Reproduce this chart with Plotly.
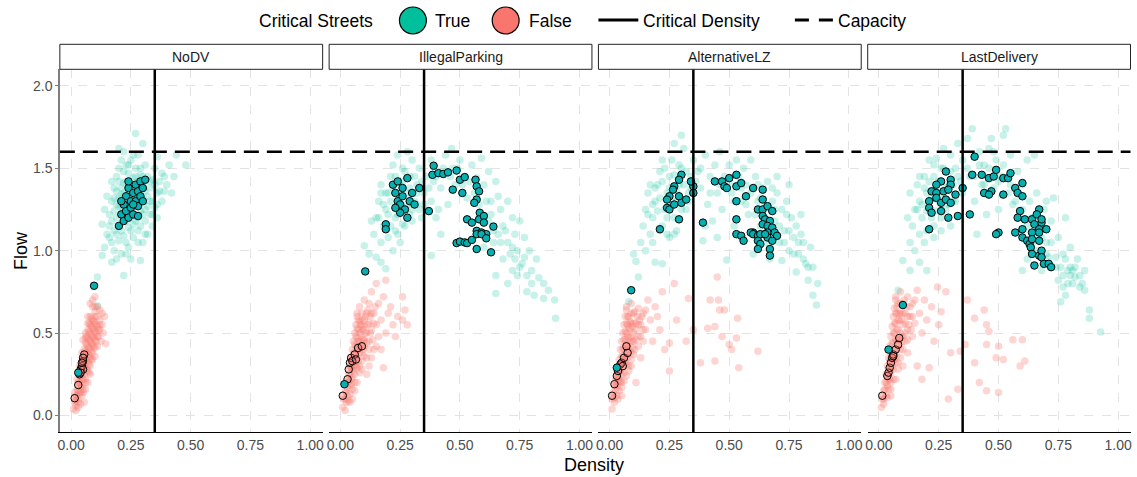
import plotly.graph_objects as go

W, H = 1137, 477

PANELS = ["NoDV", "IllegalParking", "AlternativeLZ", "LastDelivery"]
CRITICAL_DENSITY = 0.35
CAPACITY = 1.6
X_TICKS = [0, 0.25, 0.5, 0.75, 1.0]
X_TICK_LABELS = ["0.00", "0.25", "0.50", "0.75", "1.00"]
Y_TICKS = [0, 0.5, 1.0, 1.5, 2.0]
Y_TICK_LABELS = ["0.0", "0.5", "1.0", "1.5", "2.0"]

# ---------------- background clouds (density, flow) ----------------
NODV_TRUE_CLOUD = [
    (0.16,1.22),(0.17,1.30),(0.18,1.38),(0.19,1.45),(0.20,1.50),(0.21,1.55),(0.22,1.60),(0.23,1.52),(0.24,1.47),(0.25,1.55),
    (0.26,1.44),(0.27,1.50),(0.28,1.58),(0.29,1.46),(0.30,1.40),(0.31,1.52),(0.32,1.45),(0.33,1.38),(0.34,1.43),(0.35,1.50),
    (0.36,1.35),(0.37,1.42),(0.38,1.47),(0.40,1.40),(0.41,1.52),(0.43,1.45),(0.48,1.52),(0.44,1.58),
    (0.15,1.10),(0.16,1.15),(0.17,1.05),(0.18,1.12),(0.19,1.20),(0.20,1.27),(0.21,1.34),(0.22,1.41),(0.23,1.18),(0.24,1.25),
    (0.25,1.33),(0.26,1.21),(0.27,1.29),(0.28,1.36),(0.29,1.24),(0.30,1.31),(0.31,1.18),(0.32,1.27),(0.33,1.22),(0.34,1.30),
    (0.35,1.26),(0.36,1.20),(0.38,1.30),(0.39,1.36),
    (0.18,1.00),(0.20,1.06),(0.22,1.09),(0.24,1.02),(0.26,1.08),(0.28,1.12),(0.30,1.05),(0.32,1.10),(0.34,1.15),(0.21,0.98),
    (0.25,0.95),(0.29,0.94),(0.17,0.93),(0.22,0.85),(0.11,0.84),(0.13,0.97),(0.11,0.665),(0.14,1.02),(0.27,1.71),(0.30,1.65),
    (0.20,1.62),(0.36,1.57),(0.42,1.35),(0.13,1.16),(0.14,1.25),(0.15,1.33),(0.17,1.42),(0.19,1.36),(0.21,1.26),(0.23,1.33),
    (0.25,1.40),(0.27,1.37),(0.29,1.33),(0.24,1.14),(0.26,1.16),(0.28,1.20),(0.30,1.22),(0.22,1.24),(0.20,1.15),
]
NODV_TRUE_CORE = [
    (0.19,1.28),(0.20,1.32),(0.21,1.38),(0.22,1.35),(0.23,1.42),(0.24,1.36),(0.25,1.22),(0.26,1.30),(0.27,1.45),(0.28,1.42),
    (0.29,1.50),(0.30,1.45),(0.31,1.36),(0.32,1.33),(0.33,1.42),(0.18,1.24),(0.19,1.10),(0.21,1.12),(0.23,1.05),(0.25,1.12),
    (0.27,1.18),(0.29,1.15),(0.31,1.25),(0.33,1.30),(0.35,1.40),(0.37,1.36),(0.39,1.45),(0.22,1.48),(0.24,1.52),(0.26,1.58),
    (0.18,1.32),(0.20,1.42),(0.16,1.08),(0.17,1.18),(0.28,1.05),(0.23,0.98),(0.19,0.95),(0.31,1.10),(0.34,1.22),(0.36,1.28),
]
NODV_FALSE_CLOUD = [
    (0.01,0.04),(0.015,0.08),(0.02,0.12),(0.02,0.06),(0.025,0.16),(0.03,0.10),(0.03,0.20),(0.035,0.14),(0.035,0.24),(0.04,0.18),
    (0.04,0.28),(0.045,0.22),(0.045,0.32),(0.05,0.16),(0.05,0.26),(0.05,0.36),(0.055,0.30),(0.055,0.40),(0.06,0.22),(0.06,0.34),
    (0.06,0.44),(0.065,0.28),(0.065,0.38),(0.065,0.48),(0.07,0.32),(0.07,0.42),(0.07,0.52),(0.075,0.26),(0.075,0.36),(0.075,0.46),
    (0.075,0.56),(0.08,0.30),(0.08,0.40),(0.08,0.50),(0.08,0.60),(0.085,0.34),(0.085,0.44),(0.085,0.54),(0.09,0.38),(0.09,0.48),
    (0.09,0.58),(0.09,0.66),(0.095,0.42),(0.095,0.52),(0.10,0.36),(0.10,0.46),(0.10,0.56),(0.10,0.63),(0.105,0.50),(0.11,0.42),
    (0.11,0.54),(0.11,0.60),(0.115,0.48),(0.12,0.52),(0.12,0.58),(0.125,0.45),(0.13,0.55),(0.135,0.50),(0.145,0.435),(0.14,0.60),
    (0.09,0.70),(0.10,0.72),(0.08,0.68),(0.03,0.05),(0.045,0.12),(0.06,0.16),(0.07,0.20),(0.055,0.08),(0.04,0.07),(0.02,0.03),
    (0.07,0.60),(0.11,0.66),(0.12,0.64),(0.13,0.62),(0.06,0.50),(0.05,0.46),(0.035,0.30),(0.025,0.22),(0.015,0.14),
]
NODV_FALSE_CORE = [
    (0.02,0.09),(0.025,0.12),(0.03,0.15),(0.035,0.20),(0.04,0.24),(0.04,0.14),(0.045,0.18),(0.045,0.27),(0.05,0.22),(0.05,0.31),
    (0.055,0.25),(0.055,0.35),(0.06,0.29),(0.06,0.39),(0.065,0.33),(0.065,0.43),(0.07,0.27),(0.07,0.37),(0.07,0.47),(0.075,0.31),
    (0.075,0.41),(0.075,0.51),(0.08,0.35),(0.08,0.45),(0.08,0.55),(0.085,0.39),(0.085,0.49),(0.085,0.59),(0.09,0.43),(0.09,0.53),
    (0.095,0.47),(0.095,0.57),(0.10,0.41),(0.10,0.51),(0.10,0.60),(0.105,0.45),(0.105,0.55),(0.11,0.48),(0.115,0.52),(0.12,0.55),
    (0.09,0.34),(0.08,0.25),(0.06,0.20),(0.05,0.14),(0.03,0.08),(0.10,0.66),(0.07,0.56),(0.06,0.47),(0.045,0.38),(0.035,0.26),
]
ILLEGAL_TRUE_CLOUD = [
    (0.14,1.10),(0.15,1.20),(0.16,1.30),(0.17,1.40),(0.18,1.15),(0.19,1.25),(0.20,1.35),(0.21,1.45),(0.22,1.52),(0.23,1.20),
    (0.24,1.30),(0.25,1.40),(0.26,1.50),(0.27,1.25),(0.28,1.35),(0.29,1.45),(0.30,1.55),(0.31,1.30),(0.32,1.40),(0.33,1.50),
    (0.34,1.20),(0.35,1.35),(0.36,1.45),(0.17,1.05),(0.20,1.08),(0.23,1.12),(0.26,1.16),(0.29,1.22),(0.32,1.28),(0.12,0.98),
    (0.10,1.03),(0.17,0.93),(0.19,0.89),(0.15,0.96),(0.22,1.00),(0.25,1.05),(0.13,1.18),(0.24,1.58),(0.28,1.60),
    (0.38,1.55),(0.40,1.45),(0.42,1.38),(0.44,1.58),(0.465,1.62),(0.47,1.50),(0.48,1.40),(0.50,1.55),(0.52,1.45),(0.53,1.32),
    (0.55,1.52),(0.57,1.44),(0.59,1.56),(0.60,1.40),(0.62,1.48),(0.63,1.30),(0.65,1.42),(0.66,1.33),(0.38,1.30),(0.41,1.25),
    (0.45,1.28),(0.38,0.97),(0.42,1.10),(0.40,1.20),
    (0.67,1.25),(0.68,1.15),(0.70,1.30),(0.70,1.05),(0.72,1.20),(0.72,0.88),(0.73,1.10),(0.74,1.00),(0.75,1.18),(0.76,0.92),
    (0.77,0.96),(0.77,1.08),(0.78,0.75),(0.79,1.00),(0.80,0.88),(0.81,0.73),(0.82,0.95),(0.83,0.835),(0.85,0.80),(0.85,0.71),
    (0.87,0.76),(0.896,0.70),(0.90,0.59),(0.65,0.74),(0.65,0.85),(0.68,0.95),(0.64,1.05),(0.66,1.10),(0.62,1.18),(0.70,0.80),
    (0.74,0.85),(0.60,1.02),
]
ILLEGAL_TRUE_CORE = [
    (0.18,1.28),(0.19,1.35),(0.20,1.22),(0.21,1.30),(0.22,1.38),(0.23,1.45),(0.24,1.22),(0.25,1.34),(0.26,1.42),(0.27,1.48),
    (0.28,1.28),(0.29,1.38),(0.30,1.25),(0.31,1.45),(0.32,1.35),(0.33,1.25),(0.34,1.42),(0.35,1.28),(0.37,1.38),(0.39,1.42),
    (0.16,1.20),(0.17,1.35),(0.21,1.15),(0.24,1.10),(0.27,1.15),(0.30,1.18),(0.43,1.50),(0.46,1.45),(0.49,1.50),(0.51,1.40),
    (0.54,1.42),(0.56,1.35),(0.58,1.28),(0.61,1.30),(0.63,1.22),(0.64,1.12),(0.67,1.05),(0.69,1.12),(0.71,0.98),(0.73,0.95),
    (0.75,0.90),(0.78,0.85),(0.80,0.80),(0.72,1.02),
]
ILLEGAL_FALSE_CLOUD = [
    (0.01,0.05),(0.015,0.10),(0.02,0.15),(0.025,0.08),(0.03,0.20),(0.03,0.12),(0.035,0.25),(0.04,0.18),(0.04,0.30),(0.045,0.22),
    (0.045,0.35),(0.05,0.28),(0.05,0.40),(0.055,0.32),(0.055,0.45),(0.06,0.25),(0.06,0.38),(0.06,0.50),(0.065,0.30),(0.065,0.42),
    (0.065,0.55),(0.07,0.35),(0.07,0.47),(0.07,0.60),(0.075,0.40),(0.075,0.52),(0.08,0.30),(0.08,0.45),(0.08,0.57),(0.08,0.66),
    (0.085,0.50),(0.09,0.38),(0.09,0.54),(0.09,0.62),(0.095,0.46),(0.10,0.42),(0.10,0.58),(0.10,0.70),(0.105,0.50),(0.11,0.35),
    (0.11,0.62),(0.115,0.55),(0.12,0.45),(0.12,0.68),(0.125,0.60),(0.13,0.52),(0.13,0.75),(0.14,0.40),(0.14,0.62),(0.15,0.55),
    (0.15,0.80),(0.16,0.48),(0.16,0.68),(0.17,0.58),(0.18,0.29),(0.18,0.72),(0.19,0.82),(0.19,0.50),(0.20,0.62),(0.21,0.66),
    (0.22,0.55),(0.23,0.48),(0.24,0.60),(0.26,0.58),(0.26,0.72),(0.27,0.64),(0.28,0.55),(0.07,0.20),(0.09,0.28),(0.11,0.25),
    (0.13,0.35),(0.15,0.42),(0.05,0.10),(0.04,0.08),(0.02,0.03),(0.12,0.30),(0.17,0.40),(0.06,0.15),
]
ILLEGAL_FALSE_CORE = [
    (0.02,0.10),(0.025,0.14),(0.03,0.17),(0.035,0.21),(0.04,0.25),(0.04,0.13),(0.045,0.19),(0.045,0.29),(0.05,0.23),(0.05,0.34),
    (0.055,0.27),(0.055,0.38),(0.06,0.31),(0.06,0.43),(0.065,0.35),(0.065,0.48),(0.07,0.29),(0.07,0.40),(0.07,0.53),(0.075,0.33),
    (0.075,0.45),(0.075,0.58),(0.08,0.38),(0.08,0.50),(0.085,0.42),(0.085,0.55),(0.09,0.46),(0.09,0.58),(0.095,0.40),(0.095,0.52),
    (0.10,0.46),(0.10,0.54),(0.105,0.60),(0.11,0.44),(0.11,0.50),(0.115,0.64),(0.12,0.56),(0.12,0.40),(0.125,0.50),(0.13,0.62),
    (0.135,0.46),(0.14,0.56),(0.145,0.66),(0.09,0.33),(0.08,0.26),(0.06,0.20),(0.05,0.16),(0.035,0.09),(0.10,0.36),(0.07,0.62),
]
ALTLZ_TRUE_CLOUD = [
    (0.13,1.05),(0.14,1.15),(0.15,1.25),(0.16,1.35),(0.17,1.10),(0.18,1.20),(0.19,1.30),(0.20,1.40),(0.21,1.48),(0.22,1.15),
    (0.23,1.25),(0.24,1.35),(0.25,1.45),(0.26,1.55),(0.27,1.20),(0.28,1.30),(0.29,1.40),(0.30,1.50),(0.31,1.62),(0.32,1.25),
    (0.33,1.35),(0.34,1.45),(0.35,1.55),(0.30,1.70),(0.27,1.65),(0.22,1.55),(0.11,0.934),(0.12,0.84),(0.08,0.69),(0.19,0.93),
    (0.22,0.92),(0.15,1.00),(0.18,1.05),(0.25,1.08),(0.10,0.98),(0.28,1.12),
    (0.37,1.48),(0.38,1.38),(0.39,1.06),(0.40,1.58),(0.41,1.28),(0.42,1.45),(0.43,1.18),(0.44,1.52),(0.45,1.35),(0.46,1.60),
    (0.47,1.25),(0.48,1.45),(0.49,0.944),(0.50,1.52),(0.51,1.35),(0.52,1.15),(0.53,1.55),(0.54,1.45),(0.55,1.30),(0.56,1.50),
    (0.57,1.40),(0.58,1.22),(0.59,1.55),(0.40,1.15),(0.45,1.08),
    (0.60,0.98),(0.61,1.45),(0.62,1.30),(0.63,1.15),(0.64,1.38),(0.65,1.05),(0.66,1.42),(0.67,0.95),(0.68,1.30),(0.69,1.18),
    (0.70,1.35),(0.71,1.05),(0.72,0.94),(0.72,1.25),(0.73,1.12),(0.74,1.30),(0.75,1.00),(0.76,1.20),(0.77,1.08),(0.78,0.87),
    (0.78,1.15),(0.79,0.98),(0.80,1.22),(0.81,1.05),(0.82,0.92),(0.83,0.82),(0.84,1.02),(0.85,0.73),(0.85,0.90),(0.865,0.67),
    (0.87,0.80),(0.80,1.10),(0.75,1.40),(0.70,1.45),
]
ALTLZ_TRUE_CORE = [
    (0.18,1.28),(0.19,1.38),(0.20,1.24),(0.21,1.32),(0.22,1.42),(0.23,1.50),(0.24,1.20),(0.25,1.38),(0.26,1.30),(0.27,1.46),
    (0.28,1.36),(0.29,1.52),(0.30,1.25),(0.31,1.40),(0.32,1.48),(0.33,1.30),(0.34,1.38),(0.36,1.42),(0.38,1.50),(0.16,1.22),
    (0.17,1.40),(0.21,1.12),(0.24,1.10),(0.27,1.10),(0.42,1.35),(0.46,1.40),(0.50,1.42),(0.52,1.30),(0.55,1.38),(0.57,1.28),
    (0.59,1.35),(0.61,1.22),(0.63,1.32),(0.65,1.20),(0.67,1.12),(0.69,1.25),(0.71,1.15),(0.73,1.05),(0.75,1.12),(0.77,0.98),
    (0.79,1.05),(0.81,0.95),(0.62,1.40),(0.68,1.38),(0.74,1.22),(0.83,0.90),
]
ALTLZ_FALSE_CLOUD = [
    (0.01,0.04),(0.01,0.10),(0.015,0.14),(0.02,0.08),(0.02,0.18),(0.025,0.22),(0.03,0.12),(0.03,0.26),(0.035,0.18),(0.035,0.30),
    (0.04,0.22),(0.04,0.34),(0.045,0.27),(0.045,0.40),(0.05,0.20),(0.05,0.32),(0.05,0.45),(0.055,0.36),(0.055,0.50),(0.06,0.26),
    (0.06,0.40),(0.06,0.55),(0.065,0.32),(0.065,0.46),(0.065,0.60),(0.07,0.36),(0.07,0.50),(0.07,0.64),(0.075,0.42),(0.075,0.55),
    (0.08,0.30),(0.08,0.47),(0.08,0.60),(0.085,0.52),(0.09,0.38),(0.09,0.56),(0.09,0.68),(0.095,0.45),(0.10,0.50),(0.10,0.62),
    (0.105,0.40),(0.11,0.56),(0.11,0.20),(0.12,0.48),(0.12,0.65),(0.13,0.55),(0.14,0.45),(0.14,0.62),(0.15,0.52),(0.16,0.70),
    (0.17,0.58),(0.18,0.45),(0.19,0.66),(0.20,0.60),(0.21,0.52),(0.22,0.75),(0.23,0.40),(0.25,0.27),(0.25,0.44),(0.27,0.80),
    (0.28,0.58),(0.32,0.45),(0.33,0.71),(0.35,0.52),(0.38,0.32),(0.41,0.53),(0.42,0.70),(0.44,0.33),(0.44,0.54),(0.45,0.84),
    (0.455,0.70),(0.46,0.64),(0.47,0.48),(0.48,0.64),(0.50,0.43),(0.51,0.40),(0.53,0.47),(0.535,0.59),(0.54,0.29),(0.62,0.39),
    (0.07,0.24),(0.05,0.12),(0.09,0.30),(0.13,0.35),
]
ALTLZ_FALSE_CORE = [
    (0.02,0.11),(0.025,0.15),(0.03,0.19),(0.035,0.23),(0.04,0.27),(0.04,0.15),(0.045,0.21),(0.045,0.31),(0.05,0.25),(0.05,0.36),
    (0.055,0.29),(0.055,0.41),(0.06,0.33),(0.06,0.46),(0.065,0.37),(0.065,0.51),(0.07,0.31),(0.07,0.43),(0.07,0.56),(0.075,0.35),
    (0.075,0.48),(0.075,0.60),(0.08,0.40),(0.08,0.53),(0.085,0.44),(0.085,0.57),(0.09,0.48),(0.09,0.62),(0.095,0.41),(0.095,0.54),
    (0.10,0.45),(0.10,0.56),(0.105,0.63),(0.11,0.46),(0.11,0.52),(0.115,0.60),(0.12,0.55),(0.12,0.42),(0.125,0.58),(0.13,0.48),
    (0.135,0.60),(0.14,0.52),(0.15,0.64),(0.09,0.34),(0.08,0.27),(0.06,0.21),(0.05,0.17),(0.035,0.10),(0.10,0.37),(0.07,0.66),
]
LAST_TRUE_CLOUD = [
    (0.13,1.05),(0.13,1.35),(0.14,1.15),(0.15,1.25),(0.16,1.40),(0.17,1.10),(0.17,1.30),(0.18,1.20),(0.19,1.45),(0.20,1.35),
    (0.21,1.55),(0.22,1.20),(0.23,1.45),(0.24,1.56),(0.25,1.30),(0.26,1.50),(0.27,1.62),(0.28,1.25),(0.29,1.40),(0.30,1.58),
    (0.31,1.30),(0.32,1.50),(0.33,1.65),(0.34,1.42),(0.35,1.55),(0.20,0.88),(0.10,0.94),(0.08,0.76),(0.13,0.88),(0.17,0.93),
    (0.15,1.00),(0.19,1.05),(0.23,1.08),(0.26,1.12),(0.30,1.15),(0.12,1.20),
    (0.37,1.68),(0.39,1.74),(0.38,1.45),(0.40,1.30),(0.41,1.10),(0.42,1.60),(0.43,1.40),(0.44,1.52),(0.45,1.22),(0.46,1.62),
    (0.47,1.68),(0.48,1.38),(0.49,1.55),(0.50,1.25),(0.52,1.70),(0.53,1.74),(0.51,1.45),(0.54,1.35),(0.55,1.58),(0.56,1.28),
    (0.58,1.48),(0.58,1.11),(0.60,1.40),(0.62,1.55),(0.65,1.58),(0.63,1.30),
    (0.60,0.88),(0.62,0.95),(0.64,1.20),(0.66,1.35),(0.67,1.10),(0.68,0.88),(0.69,1.25),(0.70,1.05),(0.71,0.96),(0.72,1.18),
    (0.73,1.32),(0.74,0.90),(0.75,0.82),(0.75,1.08),(0.76,0.69),(0.77,0.98),(0.78,0.73),(0.78,1.20),(0.79,0.88),(0.80,1.02),
    (0.81,0.80),(0.82,0.84),(0.83,0.95),(0.84,0.78),(0.85,0.80),(0.86,0.76),(0.86,0.88),(0.88,0.64),(0.88,0.59),(0.927,0.506),
    (0.80,0.90),(0.77,0.85),(0.70,1.30),
]
LAST_TRUE_CORE = [
    (0.18,1.28),(0.19,1.38),(0.20,1.24),(0.21,1.42),(0.22,1.32),(0.23,1.52),(0.24,1.24),(0.25,1.42),(0.26,1.34),(0.27,1.50),
    (0.28,1.38),(0.29,1.28),(0.30,1.48),(0.31,1.40),(0.32,1.30),(0.33,1.45),(0.35,1.35),(0.37,1.50),(0.16,1.25),(0.17,1.45),
    (0.20,1.12),(0.23,1.15),(0.26,1.20),(0.40,1.45),(0.42,1.52),(0.44,1.40),(0.46,1.50),(0.48,1.60),(0.50,1.42),(0.52,1.52),
    (0.55,1.40),(0.57,1.30),(0.60,1.25),(0.62,1.15),(0.64,1.05),(0.66,1.00),(0.68,1.08),(0.70,0.98),(0.72,1.05),(0.74,0.96),
    (0.76,0.90),(0.78,0.95),(0.80,0.85),(0.82,0.90),(0.84,0.85),(0.79,0.80),(0.81,0.88),(0.77,0.78),
]
LAST_FALSE_CLOUD = [
    (0.01,0.05),(0.015,0.10),(0.02,0.15),(0.02,0.07),(0.025,0.20),(0.03,0.12),(0.03,0.25),(0.035,0.18),(0.035,0.30),(0.04,0.22),
    (0.04,0.35),(0.045,0.28),(0.045,0.42),(0.05,0.20),(0.05,0.34),(0.05,0.48),(0.055,0.38),(0.055,0.54),(0.06,0.28),(0.06,0.44),
    (0.06,0.60),(0.065,0.34),(0.065,0.50),(0.065,0.65),(0.07,0.40),(0.07,0.56),(0.07,0.70),(0.075,0.46),(0.075,0.62),(0.08,0.32),
    (0.08,0.52),(0.08,0.68),(0.085,0.58),(0.09,0.40),(0.09,0.62),(0.09,0.75),(0.095,0.48),(0.10,0.55),(0.10,0.68),(0.11,0.45),
    (0.11,0.62),(0.12,0.52),(0.12,0.72),(0.13,0.60),(0.14,0.48),(0.14,0.68),(0.15,0.56),(0.16,0.30),(0.16,0.76),(0.17,0.62),
    (0.18,0.22),(0.18,0.50),(0.19,0.70),(0.20,0.58),(0.21,0.29),(0.22,0.66),(0.245,0.78),(0.26,0.63),(0.28,0.75),(0.29,0.10),
    (0.30,0.38),(0.33,0.16),(0.34,0.39),(0.36,0.43),(0.37,0.70),(0.40,0.59),(0.40,0.32),(0.42,0.20),(0.44,0.64),(0.45,0.55),
    (0.45,0.15),(0.45,0.43),(0.46,0.51),(0.49,0.35),(0.50,0.42),(0.50,0.14),(0.52,0.34),(0.56,0.46),(0.59,0.30),(0.60,0.46),
    (0.61,0.33),(0.07,0.22),(0.05,0.12),(0.10,0.30),(0.12,0.38),(0.23,0.45),(0.25,0.55),
]
LAST_FALSE_CORE = [
    (0.02,0.10),(0.025,0.16),(0.03,0.20),(0.035,0.24),(0.04,0.28),(0.04,0.16),(0.045,0.22),(0.045,0.33),(0.05,0.26),(0.05,0.38),
    (0.055,0.30),(0.055,0.44),(0.06,0.34),(0.06,0.50),(0.065,0.38),(0.065,0.56),(0.07,0.32),(0.07,0.46),(0.07,0.62),(0.075,0.36),
    (0.075,0.52),(0.075,0.66),(0.08,0.42),(0.08,0.58),(0.085,0.46),(0.085,0.62),(0.09,0.50),(0.09,0.68),(0.095,0.44),(0.095,0.58),
    (0.10,0.48),(0.10,0.62),(0.105,0.70),(0.11,0.50),(0.11,0.56),(0.115,0.66),(0.12,0.60),(0.12,0.46),(0.125,0.55),(0.13,0.66),
    (0.135,0.52),(0.14,0.60),(0.15,0.70),(0.09,0.35),(0.08,0.28),(0.06,0.22),(0.05,0.16),(0.035,0.11),(0.10,0.40),(0.07,0.72),
]

# ---------------- highlighted (outlined) points ----------------
NODV_TRUE_HL = [
    (0.20,1.15),(0.21,1.22),(0.22,1.28),(0.22,1.18),(0.23,1.33),(0.23,1.24),(0.24,1.38),(0.24,1.20),(0.25,1.30),(0.25,1.26),
    (0.26,1.35),(0.26,1.22),(0.27,1.40),(0.27,1.30),(0.28,1.36),(0.28,1.27),(0.29,1.42),(0.29,1.33),(0.30,1.38),(0.31,1.43),
    (0.24,1.42),(0.21,1.30),(0.28,1.21),(0.26,1.28),(0.30,1.30),(0.096,0.787),(0.03,0.26),
]
NODV_FALSE_HL = [
    (0.015,0.105),(0.03,0.185),(0.035,0.25),(0.04,0.28),(0.045,0.30),(0.05,0.33),(0.055,0.37),(0.05,0.35),(0.05,0.28),
    (0.045,0.32),(0.04,0.26),
]
ILLEGAL_TRUE_HL = [
    (0.22,1.40),(0.23,1.35),(0.24,1.30),(0.24,1.42),(0.25,1.28),(0.26,1.38),(0.26,1.33),(0.27,1.25),(0.28,1.44),(0.29,1.30),
    (0.30,1.35),(0.31,1.28),(0.33,1.38),(0.25,1.23),(0.23,1.26),(0.19,1.16),(0.19,1.13),(0.28,1.20),(0.37,1.24),
    (0.39,1.515),(0.385,1.46),(0.41,1.47),(0.43,1.465),(0.45,1.475),(0.486,1.486),(0.50,1.43),(0.52,1.446),(0.565,1.43),
    (0.57,1.39),(0.47,1.37),(0.51,1.35),(0.58,1.36),(0.57,1.31),(0.56,1.29),(0.583,1.23),(0.58,1.19),(0.60,1.21),(0.53,1.19),
    (0.55,1.17),(0.60,1.17),(0.64,1.146),(0.57,1.12),(0.59,1.11),(0.61,1.10),
    (0.486,1.046),(0.50,1.055),(0.52,1.05),(0.53,1.046),(0.55,1.065),(0.57,1.10),(0.59,1.10),(0.61,1.075),(0.57,1.01),
    (0.63,0.99),(0.104,0.874),(0.017,0.19),
]
ILLEGAL_FALSE_HL = [
    (0.01,0.12),(0.03,0.22),(0.035,0.28),(0.04,0.32),(0.045,0.35),(0.06,0.37),(0.074,0.41),(0.09,0.42),(0.05,0.33),(0.065,0.34),
]
ALTLZ_TRUE_HL = [
    (0.30,1.46),(0.29,1.43),(0.27,1.39),(0.25,1.33),(0.24,1.31),(0.24,1.26),(0.25,1.25),(0.27,1.28),(0.29,1.33),(0.30,1.29),
    (0.32,1.31),(0.35,1.39),(0.35,1.35),(0.34,1.42),(0.29,1.19),(0.21,1.13),(0.265,1.37),
    (0.44,1.42),(0.47,1.42),(0.48,1.39),(0.50,1.44),(0.53,1.46),(0.53,1.39),(0.55,1.41),(0.49,1.38),(0.57,1.33),(0.53,1.30),
    (0.60,1.38),(0.64,1.37),(0.64,1.31),(0.62,1.25),(0.64,1.25),(0.66,1.27),(0.68,1.24),(0.64,1.21),(0.65,1.19),(0.67,1.18),
    (0.64,1.16),(0.66,1.15),(0.68,1.14),(0.60,1.11),(0.59,1.11),(0.65,1.10),(0.66,1.11),(0.69,1.11),(0.70,1.09),(0.53,1.19),
    (0.39,1.17),(0.53,1.10),(0.55,1.09),(0.56,1.06),(0.60,1.10),(0.62,1.09),(0.63,1.10),(0.62,1.06),(0.63,1.04),(0.66,1.08),
    (0.68,1.06),(0.62,1.01),(0.67,1.01),(0.67,0.97),(0.65,1.10),(0.09,0.76),(0.03,0.29),
]
ALTLZ_FALSE_HL = [
    (0.01,0.12),(0.02,0.19),(0.03,0.24),(0.035,0.27),(0.045,0.31),(0.05,0.32),(0.06,0.35),(0.075,0.38),(0.07,0.42),(0.055,0.30),
]
LAST_TRUE_HL = [
    (0.40,1.57),(0.28,1.48),(0.26,1.42),(0.30,1.43),(0.30,1.40),(0.24,1.40),(0.22,1.36),(0.24,1.35),(0.27,1.36),(0.29,1.37),
    (0.32,1.34),(0.21,1.30),(0.24,1.32),(0.26,1.29),(0.28,1.31),(0.30,1.29),(0.21,1.26),(0.22,1.23),(0.26,1.24),(0.29,1.20),
    (0.33,1.21),(0.21,1.13),(0.38,1.22),(0.35,1.38),
    (0.39,1.46),(0.43,1.46),(0.46,1.44),(0.48,1.45),(0.49,1.49),(0.52,1.44),(0.54,1.44),(0.55,1.47),(0.44,1.35),(0.47,1.36),
    (0.46,1.34),(0.52,1.34),(0.57,1.38),(0.58,1.35),(0.60,1.33),(0.60,1.41),(0.59,1.24),(0.61,1.19),(0.58,1.20),(0.60,1.13),
    (0.64,1.19),(0.67,1.25),(0.66,1.22),(0.65,1.16),(0.68,1.17),(0.68,1.19),(0.67,1.13),(0.70,1.13),(0.64,1.11),(0.50,1.11),
    (0.49,1.10),(0.57,1.11),(0.60,1.08),(0.62,1.06),(0.63,1.04),(0.64,1.07),(0.635,1.02),(0.67,1.06),(0.67,1.11),(0.64,0.98),
    (0.67,0.97),(0.68,1.00),(0.69,0.92),(0.71,0.92),(0.72,0.90),(0.65,0.91),(0.68,0.96),(0.10,0.67),(0.04,0.40),
]
LAST_FALSE_HL = [
    (0.014,0.12),(0.035,0.24),(0.04,0.26),(0.045,0.29),(0.05,0.32),(0.055,0.35),(0.06,0.37),(0.07,0.40),(0.08,0.43),
    (0.085,0.47),(0.06,0.36),
]

TRUE_CLOUDS = [NODV_TRUE_CLOUD + NODV_TRUE_CORE, ILLEGAL_TRUE_CLOUD + ILLEGAL_TRUE_CORE,
               ALTLZ_TRUE_CLOUD + ALTLZ_TRUE_CORE, LAST_TRUE_CLOUD + LAST_TRUE_CORE]
FALSE_CLOUDS = [NODV_FALSE_CLOUD + NODV_FALSE_CORE, ILLEGAL_FALSE_CLOUD + ILLEGAL_FALSE_CORE,
                ALTLZ_FALSE_CLOUD + ALTLZ_FALSE_CORE, LAST_FALSE_CLOUD + LAST_FALSE_CORE]
TRUE_HL = [NODV_TRUE_HL, ILLEGAL_TRUE_HL, ALTLZ_TRUE_HL, LAST_TRUE_HL]
FALSE_HL = [NODV_FALSE_HL, ILLEGAL_FALSE_HL, ALTLZ_FALSE_HL, LAST_FALSE_HL]

# ---------------- styling ----------------
FONT = "Liberation Sans, Arial, sans-serif"
TEAL = "#00BF9C"
SALMON = "#F8766D"
HL_TEAL = "#06B0B0"
GRID = "#E3E3E3"
TICK_GREY = "#4D4D4D"

PANEL_LEFT_PX = [58, 328, 598, 868]
PANEL_W_PX = 263.5
PLOT_TOP_PX, PLOT_BOT_PX = 69.3, 432.0
STRIP_TOP_PX = 44.3
X_RANGE = [-0.047, 1.052]
Y_RANGE = [-0.1, 2.1]


def px(x):
    return x / W


def py(y):
    return 1 - y / H


fig = go.Figure()
shapes = []
annotations = []

for i, name in enumerate(PANELS):
    xa = "x" if i == 0 else f"x{i + 1}"
    ya = "y" if i == 0 else f"y{i + 1}"

    def add(points, marker):
        fig.add_trace(go.Scatter(
            x=[p[0] for p in points], y=[p[1] for p in points], mode="markers",
            xaxis=xa, yaxis=ya, marker=marker, showlegend=False, hoverinfo="skip"))

    add(TRUE_CLOUDS[i], dict(size=7.5, color=TEAL, opacity=0.22, line=dict(width=0)))
    add(FALSE_CLOUDS[i], dict(size=7.5, color=SALMON, opacity=0.3, line=dict(width=0)))
    add(FALSE_HL[i], dict(size=7.5, color="rgba(248,118,109,0.35)", line=dict(width=1, color="black")))
    add(TRUE_HL[i], dict(size=7.5, color=HL_TEAL, line=dict(width=1, color="black")))

    left = PANEL_LEFT_PX[i]
    xkey = "xaxis" if i == 0 else f"xaxis{i + 1}"
    ykey = "yaxis" if i == 0 else f"yaxis{i + 1}"
    fig.update_layout(**{
        xkey: dict(
            domain=[px(left), px(left + PANEL_W_PX)], range=X_RANGE, anchor=ya,
            tickvals=X_TICKS, ticktext=X_TICK_LABELS, ticks="", showgrid=True,
            gridcolor=GRID, griddash="dash", gridwidth=1, zeroline=False,
            showline=True, linecolor="black", linewidth=1.2,
            tickfont=dict(size=14, color=TICK_GREY, family=FONT), fixedrange=True),
        ykey: dict(
            domain=[py(PLOT_BOT_PX), py(PLOT_TOP_PX)], range=Y_RANGE, anchor=xa,
            tickvals=Y_TICKS, ticktext=Y_TICK_LABELS,
            ticks="outside" if i == 0 else "", ticklen=3, tickcolor="#7F7F7F",
            showticklabels=(i == 0), showgrid=True, gridcolor=GRID, griddash="dash",
            gridwidth=1, zeroline=False, showline=(i == 0), linecolor="#7F7F7F",
            linewidth=1.5, tickfont=dict(size=14, color=TICK_GREY, family=FONT),
            fixedrange=True),
    })

    # reference lines
    shapes.append(dict(type="line", xref=xa, yref=f"{ya} domain", x0=CRITICAL_DENSITY,
                       x1=CRITICAL_DENSITY, y0=0, y1=1, line=dict(color="black", width=2.5)))
    shapes.append(dict(type="line", xref=f"{xa} domain", yref=ya, x0=0, x1=1, y0=CAPACITY,
                       y1=CAPACITY, line=dict(color="black", width=2.5, dash="15px,8px")))
    # strip
    shapes.append(dict(type="rect", xref="paper", yref="paper", x0=px(left),
                       x1=px(left + PANEL_W_PX), y0=py(PLOT_TOP_PX), y1=py(STRIP_TOP_PX),
                       fillcolor="white", line=dict(color="#222222", width=1)))
    annotations.append(dict(text=name, xref="paper", yref="paper",
                            x=px(left + PANEL_W_PX / 2), y=py((PLOT_TOP_PX + STRIP_TOP_PX) / 2),
                            showarrow=False, xanchor="center", yanchor="middle",
                            font=dict(size=14, color="#1A1A1A", family=FONT)))

# axis titles
annotations.append(dict(text="Flow", xref="paper", yref="paper", x=px(19), y=py(250),
                        textangle=-90, showarrow=False, xanchor="center", yanchor="middle",
                        font=dict(size=18, color="black", family=FONT)))
annotations.append(dict(text="Density", xref="paper", yref="paper", x=px(594), y=py(465),
                        showarrow=False, xanchor="center", yanchor="middle",
                        font=dict(size=18, color="black", family=FONT)))

# legend (drawn manually)
LEG_Y = 21
def leg_text(t, x):
    annotations.append(dict(text=t, xref="paper", yref="paper", x=px(x), y=py(LEG_Y),
                            showarrow=False, xanchor="left", yanchor="middle",
                            font=dict(size=17.5, color="black", family=FONT)))

leg_text("Critical Streets", 256)
for cx, col in [(412, TEAL), (505, SALMON)]:
    shapes.append(dict(type="circle", xref="paper", yref="paper", x0=px(cx - 13.5), x1=px(cx + 13.5),
                       y0=py(LEG_Y - 0.5 + 13.5), y1=py(LEG_Y - 0.5 - 13.5), fillcolor=col,
                       line=dict(color="black", width=1.2)))
leg_text("True", 432)
leg_text("False", 526)
shapes.append(dict(type="line", xref="paper", yref="paper", x0=px(598), x1=px(638),
                   y0=py(LEG_Y - 1), y1=py(LEG_Y - 1), line=dict(color="black", width=3)))
leg_text("Critical Density", 641)
shapes.append(dict(type="line", xref="paper", yref="paper", x0=px(795), x1=px(834),
                   y0=py(LEG_Y - 1), y1=py(LEG_Y - 1), line=dict(color="black", width=3, dash="14px,10px")))
leg_text("Capacity", 836)

fig.update_layout(
    width=W, height=H, margin=dict(l=0, r=0, t=0, b=0),
    paper_bgcolor="white", plot_bgcolor="white",
    shapes=shapes, annotations=annotations, showlegend=False,
    font=dict(family=FONT), hovermode=False,
)

fig.write_html("out.html", config={"displayModeBar": False, "staticPlot": True},
               post_script="document.body.style.margin='0px';document.body.style.overflow='hidden';")
